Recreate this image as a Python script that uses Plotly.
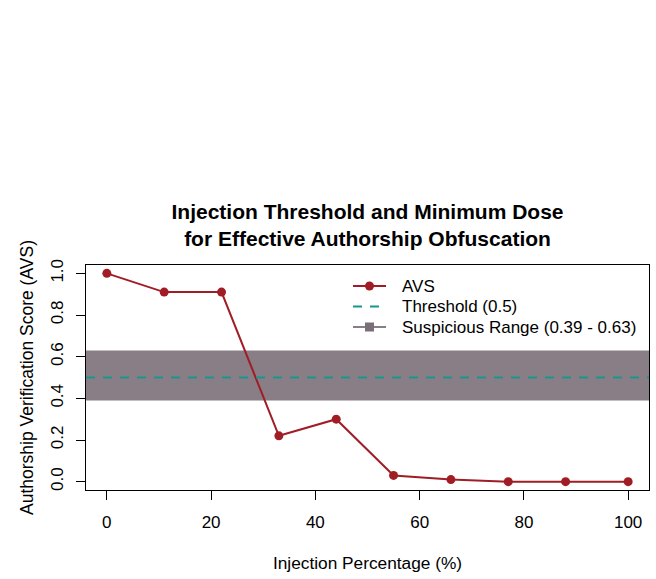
import plotly.graph_objects as go

injection_pct = [0, 11, 22, 33, 44, 55, 66, 77, 88, 100]
avs_scores = [1.0, 0.91, 0.91, 0.22, 0.30, 0.03, 0.01, 0.0, 0.0, 0.0]
threshold = 0.5
suspicious_low, suspicious_high = 0.39, 0.63
x_ticks = [0, 20, 40, 60, 80, 100]
y_ticks = [0.0, 0.2, 0.4, 0.6, 0.8, 1.0]
y_tick_labels = ["0.0", "0.2", "0.4", "0.6", "0.8", "1.0"]
legend_labels = ["AVS", "Threshold (0.5)",
                 f"Suspicious Range ({suspicious_low} - {suspicious_high})"]

RED = "#a01d26"
TEAL = "#17968f"
BAND = "#8a7e86"
FONT = "Liberation Sans, Arial, sans-serif"

W, H = 656, 579
ML, MR, MT, MB = 86, 7, 265, 89
PW, PH = W - ML - MR, H - MT - MB


def px_x(px):
    return (px - ML) / PW


def px_y(py):
    return (H - MB - py) / PH


x_range = [-4, 104]
y_range = [-0.04, 1.04]

fig = go.Figure()

# suspicious band spanning the full plot width
fig.add_shape(type="rect", xref="paper", yref="y", x0=0, x1=1,
              y0=suspicious_low, y1=suspicious_high,
              fillcolor=BAND, line=dict(width=0), layer="below")

fig.add_trace(go.Scatter(
    x=injection_pct, y=avs_scores, mode="lines+markers", name=legend_labels[0],
    line=dict(color=RED, width=2), marker=dict(color=RED, size=9), showlegend=False))

fig.add_trace(go.Scatter(
    x=x_range, y=[threshold, threshold], mode="lines", name=legend_labels[1],
    line=dict(color=TEAL, width=2.2, dash="9px,8px"), showlegend=False))

# manual legend (R style, no box)
rows_py = [286, 306.5, 327]
sym_x0, sym_x1, sym_xc, text_x = px_x(353), px_x(386), px_x(369.5), px_x(400)
legend_styles = [
    dict(color=RED, dash="solid", marker="circle"),
    dict(color=TEAL, dash="9px,8px", marker=None),
    dict(color=BAND, dash="solid", marker="square"),
]
for label, py, st in zip(legend_labels, rows_py, legend_styles):
    yy = px_y(py)
    fig.add_shape(type="line", xref="paper", yref="paper",
                  x0=sym_x0, x1=sym_x1, y0=yy, y1=yy,
                  line=dict(color=st["color"], width=2.2, dash=st["dash"]))
    if st["marker"] == "circle":
        fig.add_shape(type="circle", xref="paper", yref="paper",
                      xsizemode="pixel", ysizemode="pixel",
                      xanchor=sym_xc, yanchor=yy, x0=-4.5, x1=4.5, y0=-4.5, y1=4.5,
                      fillcolor=st["color"], line=dict(width=0))
    elif st["marker"] == "square":
        fig.add_shape(type="rect", xref="paper", yref="paper",
                      xsizemode="pixel", ysizemode="pixel",
                      xanchor=sym_xc, yanchor=yy, x0=-4.5, x1=4.5, y0=-4.5, y1=4.5,
                      fillcolor="#7a6e77", line=dict(width=0))
    fig.add_annotation(text=label, xref="paper", yref="paper", x=text_x, y=yy,
                       xanchor="left", yanchor="middle", showarrow=False,
                       font=dict(size=17, family=FONT, color="black"))

fig.update_layout(
    width=W, height=H,
    margin=dict(l=ML, r=MR, t=MT, b=MB),
    paper_bgcolor="white", plot_bgcolor="white",
    font=dict(family=FONT, size=17, color="black"),
    title=dict(text="<b>Injection Threshold and Minimum Dose<br>for Effective Authorship Obfuscation</b>",
               x=0.5, xref="paper", xanchor="center",
               y=1 - 219 / H, yref="container", yanchor="top",
               font=dict(size=21, family=FONT, color="black")),
    showlegend=False,
)

fig.update_xaxes(range=x_range, tickvals=x_ticks, ticks="outside", ticklen=9,
                 tickcolor="black", showline=True, linecolor="black", linewidth=1,
                 mirror=True, showgrid=False, zeroline=False,
                 ticklabelstandoff=8,
                 title=dict(text="Injection Percentage (%)", standoff=25,
                            font=dict(size=17.3, family=FONT, color="black")))

fig.update_yaxes(range=y_range, tickvals=y_ticks, ticktext=y_tick_labels,
                 ticks="outside", ticklen=9, tickangle=-90,
                 tickcolor="black", showline=True, linecolor="black", linewidth=1,
                 mirror=True, showgrid=False, zeroline=False,
                 ticklabelstandoff=6,
                 title=dict(text="Authorship Verification Score (AVS)", standoff=10,
                            font=dict(size=17.5, family=FONT, color="black")))

fig.write_html("out.html")
